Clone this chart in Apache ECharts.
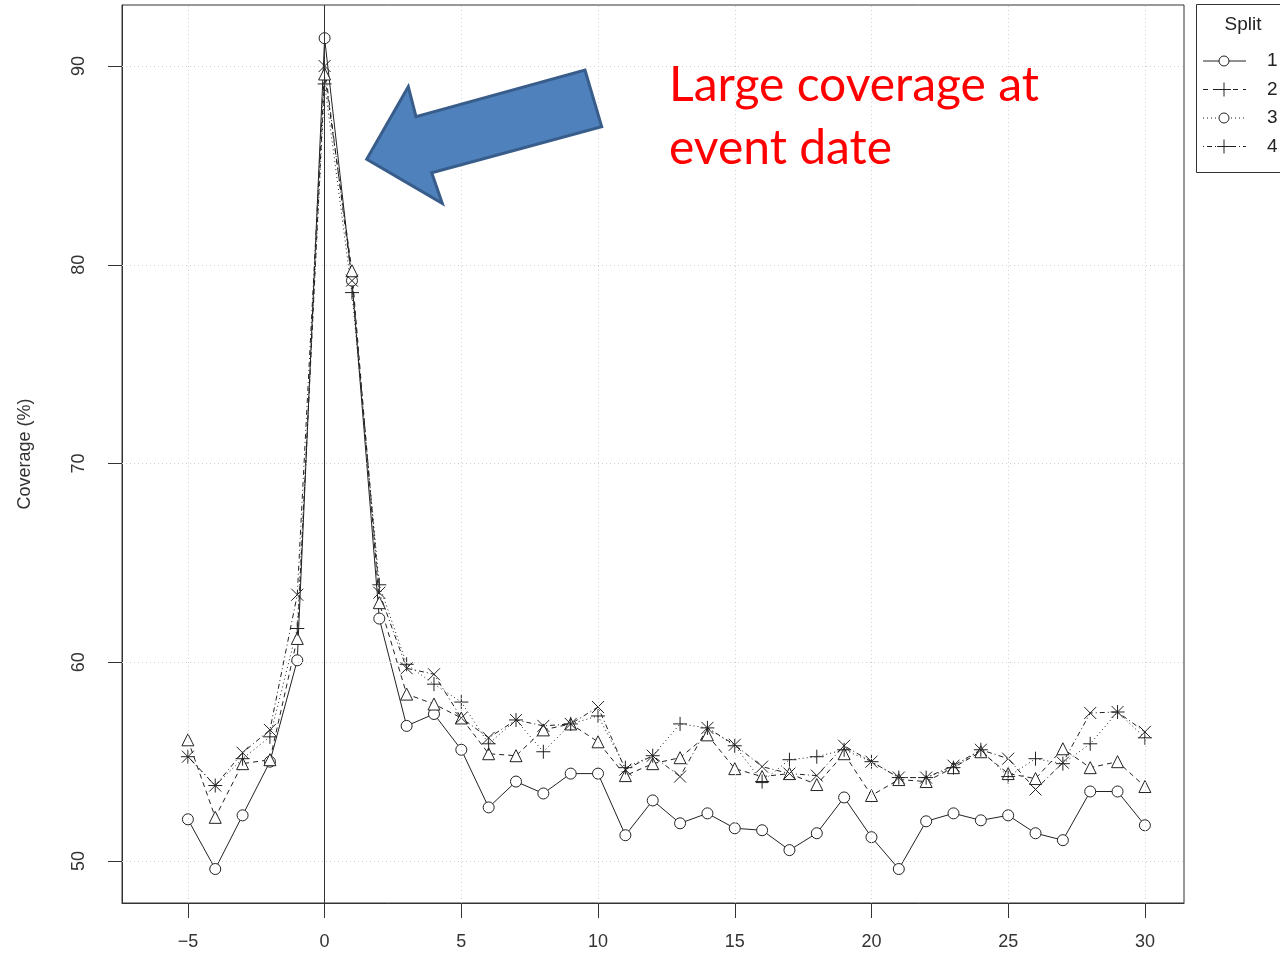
<!DOCTYPE html>
<html>
<head>
<meta charset="utf-8">
<title>Coverage by day relative to event</title>
<script src="https://cdn.jsdelivr.net/npm/echarts@6/dist/echarts.min.js"></script>
<style>
  html, body { margin: 0; padding: 0; background: #fff; }
  #chart { width: 1280px; height: 963px; }
</style>
</head>
<body>
<div id="chart"></div>
<script>
// Days relative to the event date
const days = [-5, -4, -3, -2, -1, 0, 1, 2, 3, 4, 5, 6, 7, 8, 9, 10, 11, 12, 13, 14, 15,
  16, 17, 18, 19, 20, 21, 22, 23, 24, 25, 26, 27, 28, 29, 30];

// Coverage (%) per split
const split1 = [52.1, 49.6, 52.3, 55.0, 60.1, 91.4, 79.2, 62.2, 56.8, 57.4, 55.6, 52.7, 54.0,
  53.4, 54.4, 54.4, 51.3, 53.05, 51.9, 52.4, 51.65, 51.55, 50.55, 51.4, 53.2, 51.2, 49.6,
  52.0, 52.4, 52.05, 52.3, 51.4, 51.05, 53.5, 53.5, 51.8];
const split2 = [56.1, 52.2, 54.9, 55.1, 61.2, 89.6, 79.7, 63.0, 58.4, 57.9, 57.2, 55.4, 55.3,
  56.6, 56.9, 56.0, 54.3, 54.9, 55.2, 56.35, 54.65, 54.25, 54.4, 53.85, 55.4, 53.3, 54.1,
  54.0, 54.7, 55.5, 54.4, 54.15, 55.65, 54.7, 55.0, 53.75];
const split3 = [55.25, 53.8, 55.15, 56.25, 61.7, 89.1, 78.6, 63.9, 59.9, 58.9, 58.0, 55.9, 57.1,
  55.5, 56.9, 57.3, 54.7, 55.3, 56.9, 56.7, 55.8, 54.0, 55.1, 55.25, 55.6, 55.0, 54.2,
  54.2, 54.7, 55.6, 54.25, 55.15, 54.9, 55.9, 57.5, 56.2];
const split4 = [55.25, 53.8, 55.45, 56.6, 63.4, 90.0, 79.2, 63.5, 59.7, 59.4, 57.2, 56.2, 57.1,
  56.8, 56.9, 57.75, 54.6, 55.3, 54.25, 56.7, 55.85, 54.75, 54.4, 54.3, 55.8, 55.0, 54.2,
  54.2, 54.8, 55.6, 55.15, 53.6, 54.95, 57.45, 57.5, 56.5];

// Tick labels
const xTicks = [-5, 0, 5, 10, 15, 20, 25, 30];
const yTicks = [50, 60, 70, 80, 90];
const legendLabels = ['1', '2', '3', '4'];

const INK = '#222';
const AXIS = '#333';
const FONT = '"Liberation Sans", Arial, sans-serif';
const NOTE_FONT = '48px Lato, "Open Sans", sans-serif';

const PLUS = 'path://M0,7 L14,7 M7,0 L7,14';
const CROSS = 'path://M0,0 L12,12 M12,0 L0,12';

function pairs(ys) { return days.map((d, i) => [d, ys[i]]); }

function lineSeries(name, ys, symbol, size, dash, fill) {
  return {
    name: name,
    type: 'line',
    data: pairs(ys),
    symbol: symbol,
    symbolSize: size,
    showAllSymbol: true,
    silent: true,
    z: 3,
    lineStyle: { color: INK, width: 1, type: dash },
    itemStyle: { color: fill, borderColor: INK, borderWidth: 1 },
    emphasis: { disabled: true }
  };
}

const chart = echarts.init(document.getElementById('chart'), null, { renderer: 'canvas' });

const legendTop = 61, legendStep = 28.5;
const legendGraphics = [
  { type: 'rect', shape: { x: 1196.5, y: 4.5, width: 120, height: 168 },
    style: { fill: '#fff', stroke: AXIS, lineWidth: 1 } },
  { type: 'text', x: 1243, y: 25, style: { text: 'Split', font: '19px ' + FONT, fill: INK,
    align: 'center', verticalAlign: 'middle' } }
];
const legendDash = [null, [5, 5], [1, 3], [1, 3, 5, 3]];
legendLabels.forEach((lab, i) => {
  const y = legendTop + i * legendStep;
  legendGraphics.push({ type: 'line', shape: { x1: 1203, y1: y, x2: 1246, y2: y },
    style: { stroke: INK, lineWidth: 1, lineDash: legendDash[i] } });
  if (i % 2 === 0) {
    legendGraphics.push({ type: 'circle', shape: { cx: 1224, cy: y, r: 5 },
      style: { fill: '#fff', stroke: INK, lineWidth: 1 } });
  } else {
    legendGraphics.push({ type: 'rect', shape: { x: 1217, y: y - 4, width: 14, height: 8 },
      style: { fill: '#fff' } });
    legendGraphics.push({ type: 'line', shape: { x1: 1217, y1: y, x2: 1231, y2: y },
      style: { stroke: INK, lineWidth: 1 } });
    legendGraphics.push({ type: 'line', shape: { x1: 1224, y1: y - 7, x2: 1224, y2: y + 7 },
      style: { stroke: INK, lineWidth: 1 } });
  }
  legendGraphics.push({ type: 'text', x: 1267, y: y, style: { text: lab, font: '19px ' + FONT,
    fill: INK, verticalAlign: 'middle' } });
});

const option = {
  animation: false,
  backgroundColor: '#fff',
  grid: {
    left: 122, right: 96, top: 5, bottom: 60,
    show: true, borderColor: AXIS, borderWidth: 1, backgroundColor: 'transparent'
  },
  xAxis: {
    type: 'value',
    min: -7.41, max: 31.43,
    axisLine: { show: true, onZero: false, lineStyle: { color: AXIS, width: 1 } },
    axisTick: { show: true, length: 15, customValues: xTicks, lineStyle: { color: AXIS } },
    axisLabel: {
      customValues: xTicks, margin: 30, fontSize: 18, fontFamily: FONT, color: AXIS,
      formatter: v => (v < 0 ? '\u2212' + Math.abs(v) : String(v))
    },
    splitLine: { show: false }
  },
  yAxis: {
    type: 'value',
    min: 47.89, max: 93.07,
    name: 'Coverage (%)',
    nameLocation: 'middle',
    nameGap: 88,
    nameRotate: 90,
    nameTextStyle: { fontSize: 18, fontFamily: FONT, color: AXIS },
    axisLine: { show: true, onZero: false, lineStyle: { color: AXIS, width: 1 } },
    axisTick: { show: true, length: 14, customValues: yTicks, lineStyle: { color: AXIS } },
    axisLabel: {
      customValues: yTicks, rotate: 90, margin: 34, fontSize: 18, fontFamily: FONT, color: AXIS
    },
    splitLine: { show: false }
  },
  graphic: [
    // Callout arrow pointing at the peak
    { type: 'polygon', z: 10,
      shape: { points: [[366.7, 159.3], [408.3, 86.7], [416, 116.7], [585, 70],
        [601.7, 126.7], [431.7, 172.7], [442.3, 203.3]] },
      style: { fill: '#4F81BD', stroke: '#385D8A', lineWidth: 3, lineJoin: 'miter' } },
    { type: 'text', z: 10, x: 669, y: 62,
      style: { text: 'Large coverage at', font: NOTE_FONT, fill: '#FF0000', verticalAlign: 'top' } },
    { type: 'text', z: 10, x: 669, y: 125,
      style: { text: 'event date', font: NOTE_FONT, fill: '#FF0000', verticalAlign: 'top' } }
  ].concat(legendGraphics),
  series: [
    {
      // Reference grid and the event-date marker line
      type: 'line', data: [], silent: true, z: 1,
      markLine: {
        silent: true, symbol: 'none', animation: false,
        label: { show: false },
        lineStyle: { color: '#d0d0d0', type: [1, 3], width: 1 },
        data: xTicks.filter(v => v !== 0).map(v => ({ xAxis: v }))
          .concat(yTicks.map(v => ({ yAxis: v })))
          .concat([{ xAxis: 0, lineStyle: { color: AXIS, type: 'solid', width: 1 } }])
      }
    },
    lineSeries('1', split1, 'circle', 11, 'solid', '#fff'),
    lineSeries('2', split2, 'triangle', 12, [5, 4], '#fff'),
    lineSeries('3', split3, PLUS, 14, [1, 3], 'transparent'),
    lineSeries('4', split4, CROSS, 12, [1, 3, 5, 3], 'transparent')
  ]
};

chart.setOption(option);
</script>
</body>
</html>
